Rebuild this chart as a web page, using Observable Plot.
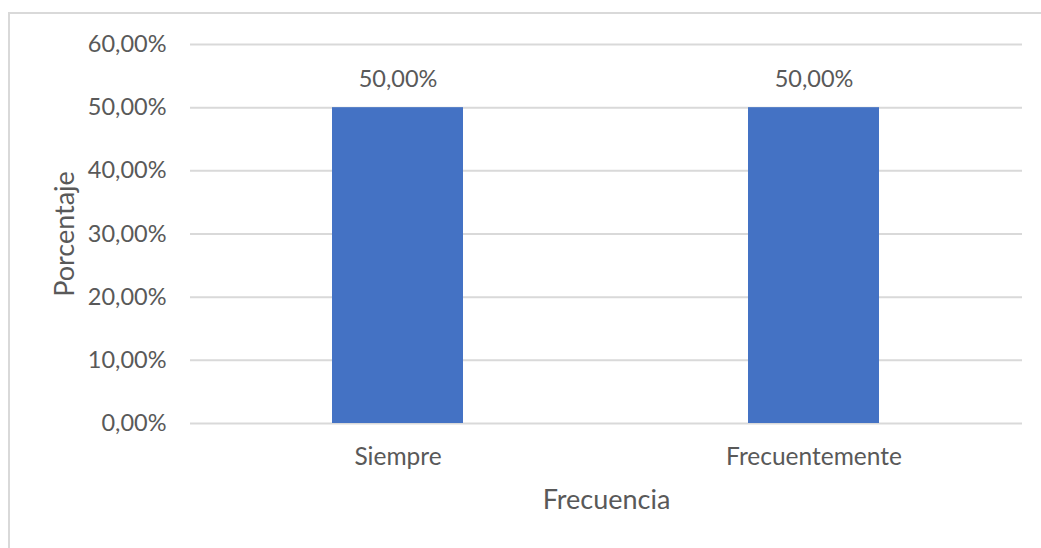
<!DOCTYPE html>
<html>
<head>
<meta charset="utf-8">
<script src="https://cdn.jsdelivr.net/npm/d3@7"></script>
<script src="https://cdn.jsdelivr.net/npm/@observablehq/plot@0.6"></script>
<style>
  html, body { margin: 0; padding: 0; background: #fff; }
  #wrap { position: relative; width: 1041px; height: 548px; overflow: hidden; }
  #frame { position: absolute; left: 8px; top: 12px; width: 1100px; height: 600px; border: 2px solid #d9d9d9; box-sizing: border-box; }
  #chart { position: absolute; left: 0; top: 0; }
</style>
</head>
<body>
<div id="wrap"><div id="frame"></div><div id="chart"></div></div>
<script>
const categories = ["Siempre", "Frecuentemente"];
const values = [0.50, 0.50];
const yTicks = [0, 0.1, 0.2, 0.3, 0.4, 0.5, 0.6];

const data = categories.map((c, i) => ({category: c, value: values[i]}));
const fmt = d => (d * 100).toFixed(2).replace(".", ",") + "%";
const font = "Lato, sans-serif";

const chart = Plot.plot({
  width: 1041,
  height: 548,
  marginLeft: 190,
  marginRight: 19,
  marginTop: 44,
  marginBottom: 125,
  style: {fontFamily: font, fontSize: "23px", color: "#595959", background: "transparent"},
  x: {domain: categories, paddingInner: 0.685, paddingOuter: 0.3425, label: null},
  y: {domain: [0, 0.6], label: null},
  marks: [
    Plot.gridY(yTicks, {stroke: "#d9d9d9", strokeOpacity: 1, strokeWidth: 2}),
    Plot.axisY(yTicks, {tickFormat: fmt, tickSize: 0, tickPadding: 24, fontSize: 23.5, fill: "#595959"}),
    Plot.axisX({tickSize: 0, tickPadding: 24, fontSize: 24.5, fill: "#595959"}),
    Plot.barY(data, {x: "category", y: "value", fill: "#4472C4"}),
    Plot.text(data, {x: "category", y: "value", text: d => fmt(d.value), dy: -28, lineAnchor: "middle", fontSize: 23.5, fill: "#595959"}),
    Plot.text(["Frecuencia"], {frameAnchor: "bottom", lineAnchor: "middle", textAnchor: "middle", dy: 77, fontSize: 27, fill: "#595959"}),
    Plot.text(["Porcentaje"], {frameAnchor: "left", lineAnchor: "middle", textAnchor: "middle", dx: -125, rotate: -90, fontSize: 27, fill: "#595959"})
  ]
});
document.getElementById("chart").appendChild(chart);
</script>
</body>
</html>
